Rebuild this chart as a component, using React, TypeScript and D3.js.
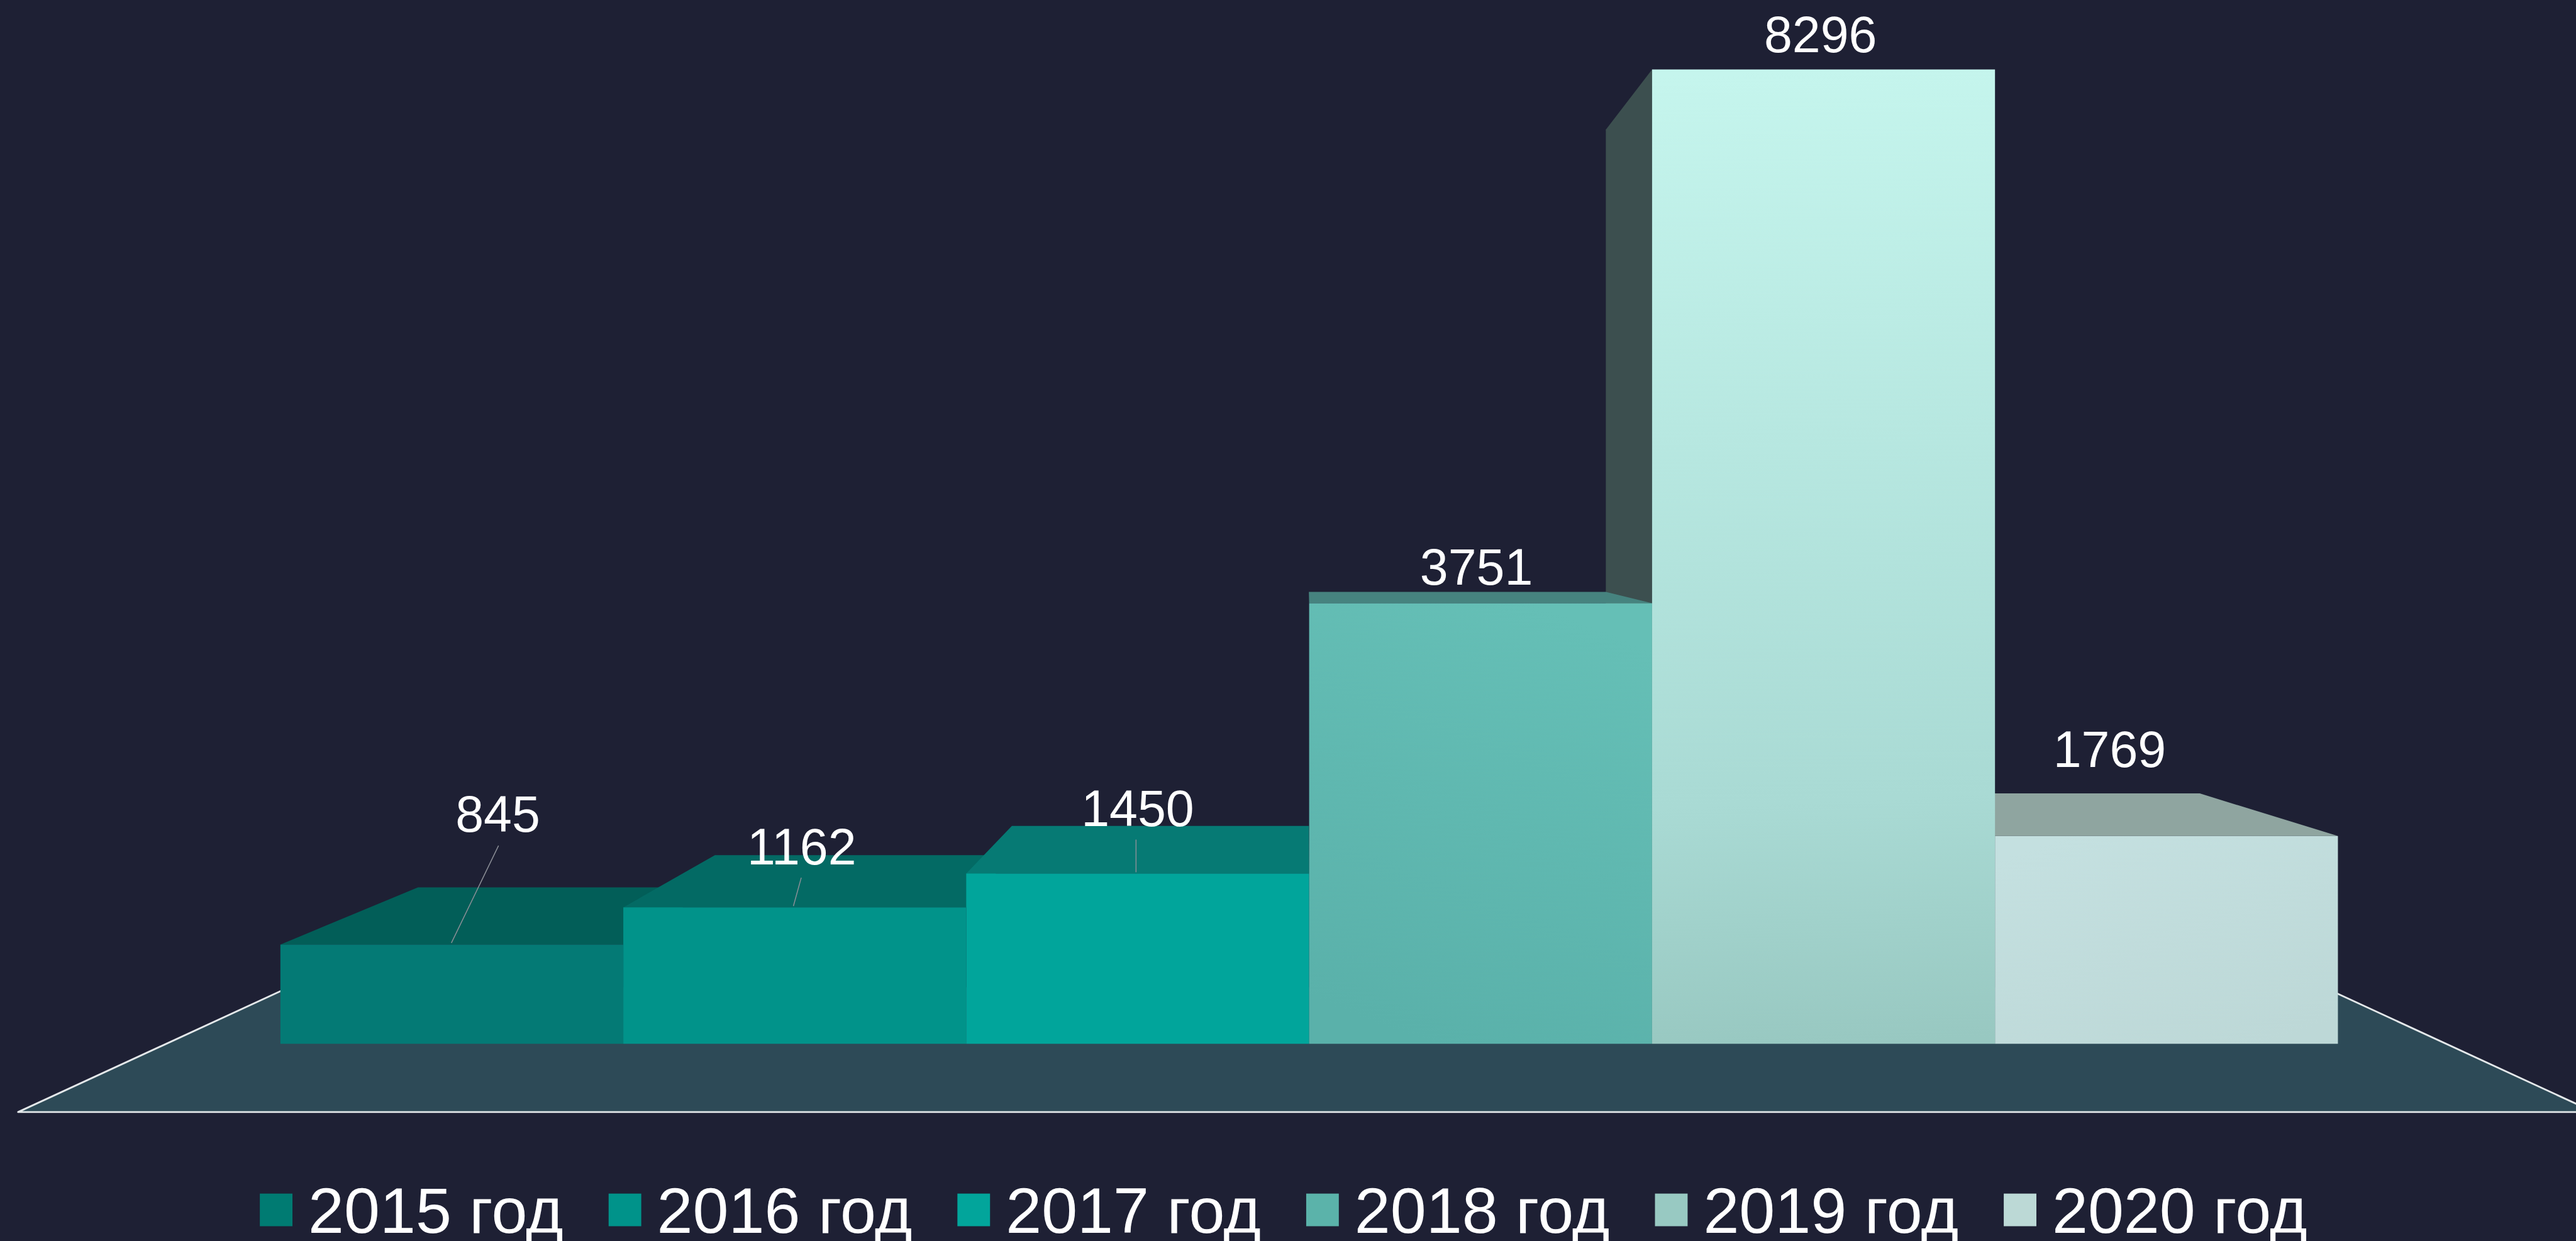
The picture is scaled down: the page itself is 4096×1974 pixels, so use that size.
import React, { useEffect } from "react";
import * as d3 from "d3";

const years = ["2015 год", "2016 год", "2017 год", "2018 год", "2019 год", "2020 год"];
const values = [845, 1162, 1450, 3751, 8296, 1769];
const frontColors = ["#047a75", "#01938a", "#01a59b", "", "", ""];
const topColors = ["#025e58", "#036a64", "#067a74", "#46837f", "#3c4f4f", "#8fa5a0"];
const legendColors = ["#007b72", "#00938a", "#02a59b", "#5bb3aa", "#98c9c2", "#bcd9d6"];
const labelOffsetX = [76, 11.5, 0, -7, -5, -94];
const labelOffsetY = [-187, -71, -78, -31, -29, -114];
const leaders: ([number, number, number, number] | null)[] = [
  [825, 1400, 747, 1561],
  [1326, 1453, 1313, 1500],
  [1880, 1390, 1880, 1444],
  null,
  null,
  null,
];

const W = 4263;
const H = 2055;
const SCALE = 4096 / W;
const BG = "#1e2034";
const VP = { x: 2163, y: 858 };
const DEPTH = 0.134;
const FLOOR_DEPTH = 0.21;

const x = d3.scaleBand<string>().domain(years).range([464, 3869]).padding(0);
const y = d3.scaleLinear().domain([0, 8296]).range([1728, 115]);
const legendX = d3.scaleLinear().domain([0, 5]).range([430, 3316]);

const back = (px: number, py: number, t = DEPTH): [number, number] => [
  px + (VP.x - px) * t,
  py + (VP.y - py) * t,
];
const line = d3.line<[number, number]>();

function Top({ i }: { i: number }) {
  const x0 = x(years[i])!;
  const x1 = x0 + x.bandwidth();
  const yt = y(values[i]);
  return (
    <path
      d={line([[x0, yt], [x1, yt], back(x1, yt), back(x0, yt)]) + "Z"}
      fill={topColors[i]}
    />
  );
}
function Front({ i }: { i: number }) {
  const x0 = x(years[i])!;
  const yt = y(values[i]);
  const fills = [frontColors[0], frontColors[1], frontColors[2], "url(#g4)", "url(#g5)", "url(#g6)"];
  return <rect x={x0} y={yt} width={x.bandwidth()} height={y(0) - yt} fill={fills[i]} />;
}
function Side({ i }: { i: number }) {
  const x0 = x(years[i])!;
  const yt = y(values[i]);
  return (
    <path
      d={line([[x0, yt], [x0, y(0)], back(x0, y(0)), back(x0, yt)]) + "Z"}
      fill={topColors[i]}
    />
  );
}

export default function App() {
  useEffect(() => {
    document.body.style.margin = "0";
    document.body.style.background = BG;
  }, []);
  const fl: [number, number] = [30, 1841];
  const fr: [number, number] = [4293, 1841];
  const bl = back(fl[0], fl[1], FLOOR_DEPTH);
  const br = back(fr[0], fr[1], FLOOR_DEPTH);
  const font = "'Liberation Sans', Arial, sans-serif";
  return (
    <svg
      width={4096}
      height={1974}
      style={{ position: "fixed", left: 0, top: 0, display: "block" }}
    >
      <defs>
        <linearGradient id="g4" x1="0.65" y1="0" x2="0.35" y2="1">
          <stop offset="0" stopColor="#65bfb6" />
          <stop offset="1" stopColor="#5ab1aa" />
        </linearGradient>
        <linearGradient id="g5" gradientUnits="userSpaceOnUse" x1="2980" y1="115" x2="3056" y2="1728">
          <stop offset="0" stopColor="#c5f5ed" />
          <stop offset="0.75" stopColor="#a9dad4" />
          <stop offset="1" stopColor="#98c8c1" />
        </linearGradient>
        <linearGradient id="g6" x1="0.2" y1="0" x2="0.8" y2="1">
          <stop offset="0" stopColor="#c4e0e0" />
          <stop offset="1" stopColor="#bdd8d7" />
        </linearGradient>
      </defs>
      <g transform={`scale(${SCALE})`}>
        <rect x={0} y={0} width={W} height={H} fill={BG} />
        <path d={line([fl, fr, br, bl]) + "Z"} fill="#2d4a57" />
        <path
          d={line([bl, fl, fr, br])!}
          fill="none"
          stroke="#e4e8ea"
          strokeWidth={3}
          strokeLinejoin="round"
        />
        <Top i={5} />
        <Front i={5} />
        <Side i={4} />
        {[0, 1, 2, 3].map((i) => (
          <g key={i}>
            <Top i={i} />
            <Front i={i} />
          </g>
        ))}
        <Front i={4} />
        {leaders.map((l, i) =>
          l ? (
            <line key={i} x1={l[0]} y1={l[1]} x2={l[2]} y2={l[3]} stroke="#8d9098" strokeWidth={1.5} />
          ) : null
        )}
        {values.map((v, i) => (
          <text
            key={v}
            x={x(years[i])! + x.bandwidth() / 2 + labelOffsetX[i]}
            y={y(v) + labelOffsetY[i]}
            textAnchor="middle"
            fontFamily={font}
            fontSize={84}
            fill="#ffffff"
          >
            {v}
          </text>
        ))}
        {years.map((name, i) => (
          <g key={name}>
            <rect x={legendX(i)} y={1976} width={54} height={54} fill={legendColors[i]} />
            <text x={legendX(i) + 80} y={2041} fontFamily={font} fontSize={106.6} fill="#ffffff">
              {name}
            </text>
          </g>
        ))}
      </g>
    </svg>
  );
}
